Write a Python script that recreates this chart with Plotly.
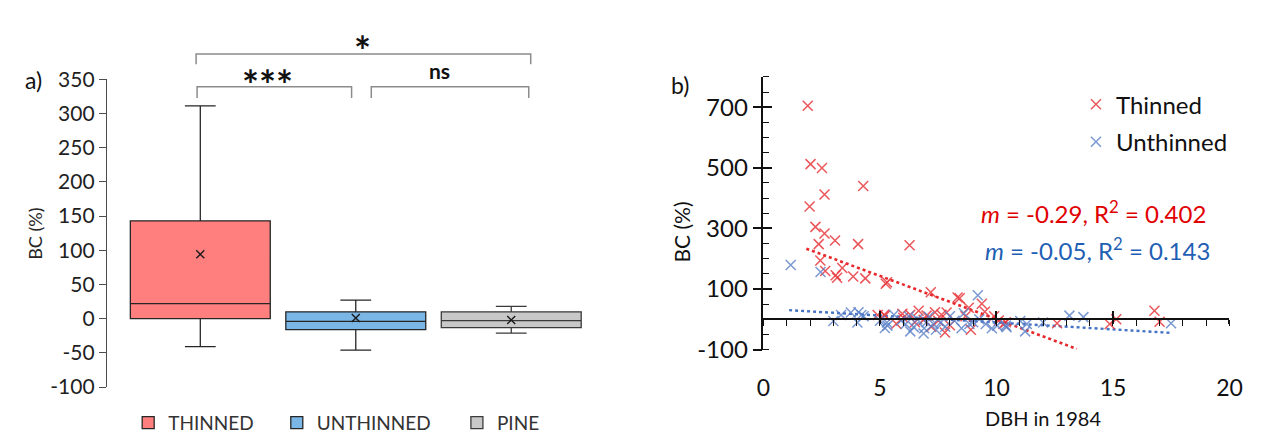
import plotly.graph_objects as go

W, H = 1265, 439
def fx(p): return p / W
def fy(p): return 1 - p / H

FONT = "Lato"

# ---------------- panel a) data ----------------
groups = ["THINNED", "UNTHINNED", "PINE"]
q1 = [0, -16, -13]
median = [22, -4, -3]
q3 = [143, 10, 10]
lowfence = [-41, -46, -21]
upfence = [311, 27, 18]
means = [94, 1, -2]
box_fill = ["#FF7F7F", "#7AB6E6", "#C8C8C8"]
box_line = ["#262626", "#262626", "#3A3A3A"]
a_yticks = [-100, -50, 0, 50, 100, 150, 200, 250, 300, 350]
a_ytext = ["-100", "-50", "0", "50", "100", "150", "200", "250", "300", "350"]

# ---------------- panel b) data ----------------
thin_x = [1.90, 2.02, 2.51, 4.28, 2.62, 1.98, 2.23, 2.62, 2.37, 3.07, 4.06, 6.27, 2.44, 2.65,
          3.38, 3.10, 3.16, 3.85, 4.37, 5.30, 5.25, 7.18, 8.33, 8.42, 9.37, 8.81, 6.66, 5.96,
          7.36, 7.64, 7.86, 5.18, 4.90, 5.21, 6.87, 7.79, 8.67, 9.90, 10.3, 10.1, 10.4, 12.6,
          14.86, 15.14, 16.78, 17.0, 6.0, 6.5, 7.0, 7.5, 8.0, 8.9, 9.5, 6.3, 7.2, 5.7]
thin_y = [705, 512, 499, 440, 412, 372, 305, 283, 248, 260, 248, 244, 194, 159,
          169, 145, 137, 141, 135, 122, 117, 89, 72, 69, 51, 38, 28, 18,
          23, 15, 22, 15, 14, 12, -2, -44, 10, 10, -16, -4, -10, -13,
          -16, 0, 28, -8, 5, -10, 12, -5, -20, -35, 25, 15, -25, -15]
unth_x = [1.17, 2.45, 3.00, 3.33, 3.75, 4.08, 4.20, 4.30, 4.03, 5.30, 5.21, 5.60, 6.24, 7.10,
          5.32, 6.10, 6.45, 6.87, 7.29, 7.60, 8.00, 8.84, 9.26, 9.54, 10.03, 9.20, 10.4, 10.43,
          11.02, 11.3, 11.23, 12.0, 13.13, 13.73, 17.49, 5.9, 6.6, 6.9, 7.4, 7.8, 8.2, 8.5,
          9.0, 9.8, 6.3, 5.0, 8.6, 7.0]
unth_y = [179, 156, -6, 14, 22, 23, 14, 10, -11, -11, -29, 15, 10, 8,
          -21, -16, -26, -47, -16, -11, 10, -16, 0, -16, -21, 79, -21, -26,
          -6, -16, -40, -11, 12, 7, -13, -5, 0, -30, -35, -25, -5, -30,
          -10, -30, -40, -5, 20, -10]
trend_thin_x = [1.84, 13.45]
trend_thin_y = [233, -98]
trend_unth_x = [1.10, 17.5]
trend_unth_y = [30, -45]
b_xticks = [0, 5, 10, 15, 20]
b_yticks = [-100, 100, 300, 500, 700]
b_ytext = ["-100", "100", "300", "500", "700"]

RED = "#E8393E"
BLUE = "#5B80C8"

fig = go.Figure()

legends = ["legend", "legend2", "legend3"]
for i, g in enumerate(groups):
    fig.add_trace(go.Box(
        x=[g], q1=[q1[i]], median=[median[i]], q3=[q3[i]],
        lowerfence=[lowfence[i]], upperfence=[upfence[i]],
        name=g, fillcolor=box_fill[i], line=dict(color=box_line[i], width=1.3),
        width=0.9, whiskerwidth=0.22, boxpoints=False,
        xaxis="x", yaxis="y", legend=legends[i], showlegend=True))

fig.add_trace(go.Scatter(
    x=groups, y=means, mode="markers", showlegend=False,
    marker=dict(symbol="x-thin", size=8, line=dict(color="#1A1A1A", width=1.4)),
    xaxis="x", yaxis="y"))

fig.add_trace(go.Scatter(
    x=trend_thin_x, y=trend_thin_y, mode="lines", showlegend=False,
    line=dict(color="#E8272B", width=2.6, dash="dot"), xaxis="x2", yaxis="y2"))
fig.add_trace(go.Scatter(
    x=trend_unth_x, y=trend_unth_y, mode="lines", showlegend=False,
    line=dict(color="#4472C4", width=2.4, dash="dot"), xaxis="x2", yaxis="y2"))

fig.add_trace(go.Scatter(
    x=thin_x, y=thin_y, mode="markers", name="Thinned", legend="legend4",
    marker=dict(symbol="x-thin", size=10, opacity=0.85, line=dict(color=RED, width=1.5)),
    xaxis="x2", yaxis="y2"))
fig.add_trace(go.Scatter(
    x=unth_x, y=unth_y, mode="markers", name="Unthinned", legend="legend5",
    marker=dict(symbol="x-thin", size=10, opacity=0.8, line=dict(color=BLUE, width=1.5)),
    xaxis="x2", yaxis="y2"))

# dummy traces to activate the overlay axes
fig.add_trace(go.Scatter(x=[None], y=[None], xaxis="x3", yaxis="y2", showlegend=False))
fig.add_trace(go.Scatter(x=[None], y=[None], xaxis="x4", yaxis="y2", showlegend=False))
fig.add_trace(go.Scatter(x=[None], y=[None], xaxis="x2", yaxis="y3", showlegend=False))

zero_pos = fy(316.5)
bx_dom = [fx(760.5), fx(1234)]
by_dom = [fy(349), fy(58.5)]

fig.update_layout(
    width=W, height=H, margin=dict(l=0, r=0, t=0, b=0),
    paper_bgcolor="white", plot_bgcolor="rgba(0,0,0,0)",
    font=dict(family=FONT, color="#262626"),
    showlegend=True,
    xaxis=dict(domain=[fx(93.5), fx(599)], range=[-0.6, 2.6], type="category",
               showline=False, showticklabels=False, ticks="", showgrid=False,
               zeroline=False, anchor="y", fixedrange=True),
    yaxis=dict(domain=[fy(389), fy(61)], range=[-100, 350], tickvals=a_yticks,
               ticktext=a_ytext,
               showline=True, linecolor="#4D4D4D", linewidth=1.3,
               ticks="outside", ticklen=7, tickcolor="#4D4D4D", tickwidth=1.3,
               showgrid=False, zeroline=False, anchor="x",
               tickfont=dict(size=21, color="#1F1F1F", family=FONT)),
    xaxis2=dict(domain=bx_dom, range=[0, 20], tickvals=b_xticks, anchor="y2",
                showline=False, ticks="", showgrid=False, zeroline=False,
                ticklabelstandoff=22, tickfont=dict(size=23, color="#111", family=FONT)),
    yaxis2=dict(domain=by_dom, range=[-100, 800], tickvals=b_yticks, ticktext=b_ytext,
                anchor="x2",
                showline=True, linecolor="#111", linewidth=1.6,
                ticks="outside", ticklen=9, tickwidth=1.6, tickcolor="#111",
                minor=dict(dtick=50, tick0=0, ticks="inside", ticklen=6,
                           tickwidth=1.4, tickcolor="#111"),
                showgrid=False, zeroline=False,
                tickfont=dict(size=24, color="#111", family=FONT)),
    yaxis3=dict(overlaying="y2", matches="y2", anchor="x2", domain=by_dom,
                tickvals=b_yticks, ticks="inside", ticklen=9, tickwidth=1.6,
                tickcolor="#111", showticklabels=False, showline=False,
                showgrid=False, zeroline=False),
    xaxis3=dict(overlaying="x2", matches="x2", anchor="free", position=zero_pos,
                tickvals=b_xticks, showline=True, linecolor="#111", linewidth=1.6,
                ticks="outside", ticklen=4, tickwidth=1.6, tickcolor="#111",
                minor=dict(dtick=1, tick0=0, ticks="outside", ticklen=6,
                           tickwidth=1.4, tickcolor="#111"),
                showticklabels=False, showgrid=False, zeroline=False),
    xaxis4=dict(overlaying="x2", matches="x2", anchor="free", position=zero_pos,
                tickvals=b_xticks, showline=False, ticks="inside", ticklen=8,
                tickwidth=1.6, tickcolor="#111", showticklabels=False,
                showgrid=False, zeroline=False),
)

leg_font = dict(size=19, color="#333333", family=FONT)
fig.update_layout(
    legend=dict(x=fx(115), y=fy(427), xanchor="left", yanchor="middle",
                font=leg_font, bgcolor="rgba(0,0,0,0)", itemwidth=30),
    legend2=dict(x=fx(266), y=fy(427), xanchor="left", yanchor="middle",
                 font=leg_font, bgcolor="rgba(0,0,0,0)", itemwidth=30),
    legend3=dict(x=fx(449), y=fy(427), xanchor="left", yanchor="middle",
                 font=leg_font, bgcolor="rgba(0,0,0,0)", itemwidth=30),
    legend4=dict(x=fx(1078), y=fy(88), xanchor="left", yanchor="middle",
                 font=dict(size=24, color="#111", family=FONT), bgcolor="rgba(0,0,0,0)"),
    legend5=dict(x=fx(1078), y=fy(128), xanchor="left", yanchor="middle",
                 font=dict(size=24, color="#111", family=FONT), bgcolor="rgba(0,0,0,0)"),
)

# significance brackets
def bracket(x1, x2, ytop, ybot):
    return dict(type="path", xref="paper", yref="paper",
                path=f"M {fx(x1)},{fy(ybot)} L {fx(x1)},{fy(ytop)} L {fx(x2)},{fy(ytop)} L {fx(x2)},{fy(ybot)}",
                line=dict(color="#8C8C8C", width=1.5))

fig.update_layout(shapes=[
    bracket(184, 524, 34, 45),
    bracket(185, 342, 69, 81),
    bracket(362, 522, 69, 81),
])

def ann(text, x, y, size, color="#111", bold=False, angle=0, xanchor="center"):
    return dict(text=f"<b>{text}</b>" if bold else text, x=fx(x), y=fy(y),
                xref="paper", yref="paper", showarrow=False, textangle=angle,
                xanchor=xanchor, yanchor="middle",
                font=dict(size=size, color=color, family=FONT))

fig.update_layout(annotations=[
    ann("a)", 19, 62, 23),
    ann("b)", 676, 67, 23),
    ann("*", 353, 31, 40, bold=True),
    ann("***", 257, 67, 40, bold=True),
    ann("ns", 431, 52, 21, bold=True),
    ann("BC (%)", 20, 226, 18, color="#262626", angle=-90),
    ann("BC (%)", 677, 224, 21, angle=-90),
    ann("DBH in 1984", 1045, 422, 20),
    ann("<i>m</i> = -0.29, R<sup>2</sup> = 0.402", 1096, 202, 24, color="#E00000"),
    ann("<i>m</i> = -0.05, R<sup>2</sup> = 0.143", 1100, 242, 24, color="#1F5FB4"),
])

fig.write_html("out.html")
